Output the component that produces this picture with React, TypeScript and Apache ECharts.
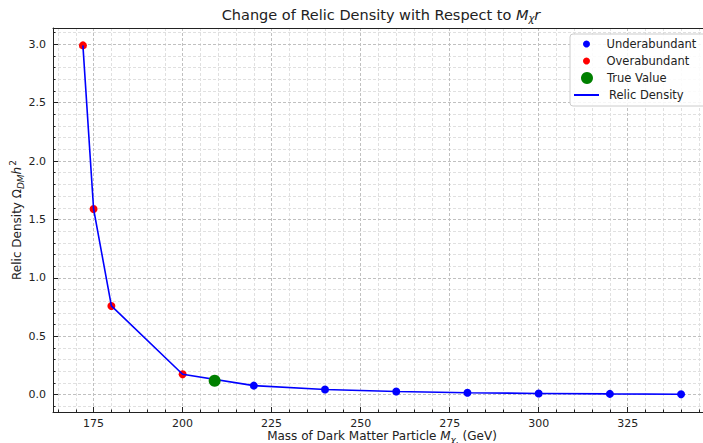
import React, { useEffect, useRef } from "react";
import * as echarts from "echarts";

const FONT = "DejaVu Sans";
const TEXT = "#222";

// Axis ticks / labels
const xTickValues = [175, 200, 225, 250, 275, 300, 325];
const yTickValues = [0, 0.5, 1.0, 1.5, 2.0, 2.5, 3.0];
const xRange = [163.6, 348.4];
const yRange = [-0.148, 3.139];
const xMinorStep = 5;
const yMinorStep = 0.1;

// Data
const overMass = [172, 175, 180, 200];
const overDensity = [2.99, 1.59, 0.76, 0.175];
const underMass = [220, 240, 260, 280, 300, 320, 340];
const underDensity = [0.078, 0.045, 0.027, 0.017, 0.011, 0.007, 0.004];
const trueMass = [209];
const trueDensity = [0.12];
const relicMass = [172, 175, 180, 200, 220, 240, 260, 280, 300, 320, 340];
const relicDensity = [2.99, 1.59, 0.76, 0.175, 0.078, 0.045, 0.027, 0.017, 0.011, 0.007, 0.004];

function minorTicks(range: number[], step: number): number[] {
  const out: number[] = [];
  const a = Math.ceil(range[0] / step - 1e-9);
  const b = Math.floor(range[1] / step + 1e-9);
  for (let k = a; k <= b; k++) out.push(Math.round(k * step * 1000) / 1000);
  return out;
}

function richStyles(size: number, top: number) {
  const base = {
    fontFamily: FONT,
    fontSize: size,
    fontWeight: "normal" as const,
    color: TEXT,
    verticalAlign: "top" as const,
  };
  const sub = Math.round(size * 0.72);
  return {
    n: { ...base, padding: [top, 0, 0, 0] },
    i: { ...base, fontStyle: "italic" as const, padding: [top, 0, 0, 0] },
    sub: { ...base, fontSize: sub, fontStyle: "italic" as const, padding: [top + Math.round(size * 0.4), 0, 0, 0] },
    sup: { ...base, fontSize: sub, padding: [0, 0, 0, 1] },
  };
}

const pairs = (xs: number[], ys: number[]) => xs.map((x, i) => [x, ys[i]]);

export default function App() {
  const ref = useRef<HTMLDivElement>(null);

  useEffect(() => {
    if (!ref.current) return;
    const chart = echarts.init(ref.current, undefined, { renderer: "svg" });
    const spine = { color: "#222", width: 1 };
    const majorGrid = { color: "#c0c0c0", width: 1, type: [3, 2] as number[] };
    const minorGrid = { color: "#e0e0e0", width: 1, type: [3, 2] as number[] };
    const xMinor = minorTicks(xRange, xMinorStep);
    const yMinor = minorTicks(yRange, yMinorStep);
    const legendText = { fontFamily: FONT, fontSize: 11.5, color: TEXT, lineHeight: 16 };

    const option: any = {
      animation: false,
      backgroundColor: "#ffffff",
      textStyle: { fontFamily: FONT },
      title: {
        text: "{n|Change of Relic Density with Respect to }{i|M}{sub|χ}{i|r}",
        left: 381,
        top: 5,
        textAlign: "center",
        padding: 0,
        textStyle: { fontFamily: FONT, fontSize: 14.5, fontWeight: "normal", color: TEXT, rich: richStyles(14.5, 2) },
      },
      grid: {
        left: 53,
        top: 28,
        right: -8,
        bottom: 31,
        containLabel: false,
        outerBoundsMode: "none",
      },
      xAxis: [
        {
          type: "value",
          min: xRange[0],
          max: xRange[1],
          position: "bottom",
          z: 2,
          axisLine: { show: true, onZero: false, lineStyle: spine },
          axisTick: { show: true, inside: true, length: 5, customValues: xTickValues, lineStyle: spine },
          axisLabel: {
            show: true,
            customValues: xTickValues,
            fontFamily: FONT,
            fontSize: 11,
            color: TEXT,
            margin: 6,
          },
          splitLine: { show: true, lineStyle: majorGrid },
          name: "{n|Mass of Dark Matter Particle }{i|M}{sub|χ,}{n| (GeV)}",
          nameLocation: "middle",
          nameGap: 18,
          nameMoveOverlap: false,
          nameTextStyle: { fontFamily: FONT, fontSize: 12, color: TEXT, rich: richStyles(12, 0) },
        },
        {
          type: "value",
          min: xRange[0],
          max: xRange[1],
          position: "bottom",
          z: 1,
          axisLine: { show: false, onZero: false },
          axisTick: { show: true, inside: true, length: 2.5, customValues: xMinor, lineStyle: spine },
          axisLabel: { show: false },
          splitLine: { show: true, lineStyle: minorGrid },
        },
        {
          type: "value",
          min: xRange[0],
          max: xRange[1],
          position: "top",
          z: 2,
          axisLine: { show: true, onZero: false, lineStyle: spine },
          axisTick: { show: false },
          axisLabel: { show: false },
          splitLine: { show: false },
        },
      ],
      yAxis: [
        {
          type: "value",
          min: yRange[0],
          max: yRange[1],
          position: "left",
          z: 2,
          axisLine: { show: true, onZero: false, lineStyle: spine },
          axisTick: { show: true, inside: true, length: 5, customValues: yTickValues, lineStyle: spine },
          axisLabel: {
            show: true,
            customValues: yTickValues,
            formatter: (v: number) => v.toFixed(1),
            fontFamily: FONT,
            fontSize: 11,
            color: TEXT,
            margin: 7,
          },
          splitLine: { show: true, lineStyle: majorGrid },
          name: "{n|Relic Density Ω}{sub|DM}{i|h}{sup|2}",
          nameLocation: "middle",
          nameRotate: 90,
          nameGap: 28,
          nameMoveOverlap: false,
          nameTextStyle: { fontFamily: FONT, fontSize: 12, color: TEXT, rich: richStyles(12, 3) },
        },
        {
          type: "value",
          min: yRange[0],
          max: yRange[1],
          position: "left",
          z: 1,
          axisLine: { show: false, onZero: false },
          axisTick: { show: true, inside: true, length: 2.5, customValues: yMinor, lineStyle: spine },
          axisLabel: { show: false },
          splitLine: { show: true, lineStyle: minorGrid },
        },
      ],
      legend: [
        {
          data: ["Underabundant", "Overabundant"],
          orient: "vertical",
          left: 583,
          top: 36,
          padding: 0,
          itemWidth: 30,
          itemHeight: 7,
          itemGap: 1,
          icon: "circle",
          z: 11,
          textStyle: legendText,
        },
        {
          data: ["True Value"],
          orient: "vertical",
          left: 581,
          top: 70,
          padding: 0,
          itemWidth: 30,
          itemHeight: 12,
          icon: "circle",
          z: 11,
          textStyle: legendText,
        },
        {
          data: [{ name: "Relic Density", icon: "rect" }],
          orient: "vertical",
          left: 574,
          top: 87,
          padding: 0,
          itemWidth: 25,
          itemHeight: 2,
          z: 11,
          textStyle: { ...legendText, padding: [0, 0, 0, 5] },
        },
      ],
      graphic: [
        {
          type: "rect",
          z: 10,
          shape: { x: 570, y: 34, width: 145, height: 72, r: 3 },
          style: { fill: "rgba(255,255,255,0.85)", stroke: "#cccccc", lineWidth: 1 },
        },
      ],
      series: [
        {
          name: "Underabundant",
          type: "scatter",
          data: pairs(underMass, underDensity),
          symbol: "circle",
          symbolSize: 8,
          itemStyle: { color: "#0000ff", opacity: 1 },
          z: 2,
        },
        {
          name: "Overabundant",
          type: "scatter",
          data: pairs(overMass, overDensity),
          symbol: "circle",
          symbolSize: 8,
          itemStyle: { color: "#ff0000", opacity: 1 },
          z: 2,
        },
        {
          name: "Relic Density",
          type: "line",
          data: pairs(relicMass, relicDensity),
          symbol: "none",
          showSymbol: false,
          lineStyle: { color: "#0000ff", width: 1.6 },
          itemStyle: { color: "#0000ff" },
          z: 3,
        },
        {
          name: "True Value",
          type: "scatter",
          data: pairs(trueMass, trueDensity),
          symbol: "circle",
          symbolSize: 12,
          itemStyle: { color: "#008000", opacity: 1 },
          z: 4,
        },
      ],
    };

    chart.setOption(option);
    return () => chart.dispose();
  }, []);

  return (
    <div
      ref={ref}
      style={{ position: "absolute", left: 0, top: 0, width: 703, height: 443, background: "#fff" }}
    />
  );
}
